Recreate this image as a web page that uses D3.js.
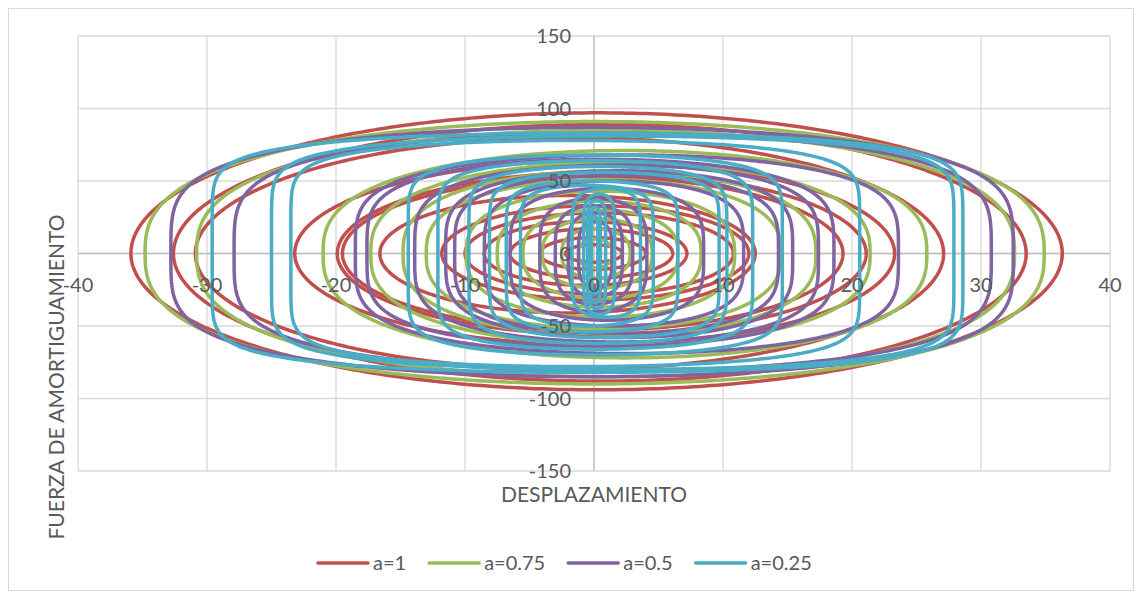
<!DOCTYPE html>
<html><head><meta charset="utf-8">
<script src="https://cdn.jsdelivr.net/npm/d3@7"></script>
<style>body{margin:0;background:#fff}svg{display:block}</style>
</head><body><svg id="c" width="1141" height="595"></svg>
<script>
// ---- data ----
const seriesNames = ["a=1", "a=0.75", "a=0.5", "a=0.25"];
const exponents = [1, 0.75, 0.5, 0.25];
const seriesColors = ["#C0504D", "#9BBB59", "#8064A2", "#4BACC6"];
// each loop: [left displacement, right displacement, peak force (upper branch), peak force (lower branch)]
const loopsA1 = [
  [-35.9, 36.3, 97, -94], [-32.6, 33.5, 89, -88], [-30.9, 27.1, 80, -80],
  [-23.2, 23.3, 64, -63], [-19.9, 21.1, 56, -56], [-19.5, 19.3, 53, -53],
  [-16.6, 12.5, 40, -41], [-11.8, 12.0, 33, -32], [-10.0, 10.8, 28, -28],
  [-8.5, 7.2, 22, -22], [-6.5, 6.1, 17, -17], [-4.2, 4.0, 11, -11], [-2.2, 2.2, 6, -6]
];
const loopsA075 = [
  [-34.8, 34.9, 91, -90], [-30.8, 32.6, 85, -85], [-21.0, 25.8, 71, -72],
  [-17.3, 21.4, 63, -63], [-14.8, 17.2, 57, -57], [-13.0, 14.5, 51, -52],
  [-9.9, 10.9, 43, -44], [-7.5, 8.3, 36, -37], [-5.5, 6.5, 30, -31],
  [-4.0, 4.5, 24, -24], [-2.5, 2.8, 17, -17], [-1.2, 1.4, 10, -10]
];
const loopsA05 = [
  [-32.8, 32.5, 87, -85], [-27.9, 30.8, 83, -81], [-18.5, 23.6, 68, -69],
  [-17.6, 18.6, 65, -64], [-13.9, 17.4, 61, -61], [-11.5, 15.4, 57, -58],
  [-10.8, 14.3, 54, -55], [-8.5, 11.6, 50, -50], [-6.5, 8.5, 45, -46],
  [-4.2, 4.1, 38, -40], [-3.0, 3.0, 33, -35], [-2.0, 2.2, 28, -30], [-1.2, 1.4, 22, -24]
];
const loopsA025 = [
  [-29.6, 28.6, 83, -82], [-25.0, 27.9, 81, -80], [-23.5, 20.6, 78, -78],
  [-14.4, 14.6, 68, -70], [-12.1, 12.3, 64, -66], [-9.7, 10.3, 60, -62],
  [-8.1, 9.7, 56, -58], [-6.8, 6.5, 50, -54], [-5.7, 4.6, 47, -50],
  [-1.7, 3.6, 45, -44], [-0.8, 1.6, 41, -42], [-0.5, 0.9, 37, -38],
  [-0.3, 0.5, 32, -34], [-0.2, 0.3, 26, -28]
];
const seriesLoops = [loopsA1, loopsA075, loopsA05, loopsA025];
const xTicks = [-40, -30, -20, -10, 0, 10, 20, 30, 40];
const yTicks = [-150, -100, -50, 0, 50, 100, 150];
const xTitle = "DESPLAZAMIENTO";
const yTitle = "FUERZA DE AMORTIGUAMIENTO";

// ---- drawing ----
const svg = d3.select("#c");
const FONT = "Lato, 'Open Sans', sans-serif";
const TXT = "#595959";
const x = d3.scaleLinear().domain([-40, 40]).range([78, 1110]);
const y = d3.scaleLinear().domain([-150, 150]).range([471, 36]);

svg.append("rect").attr("x", 8.5).attr("y", 8.5).attr("width", 1125).attr("height", 582)
  .attr("fill", "#fff").attr("stroke", "#d9d9d9");

// gridlines
svg.append("g").selectAll("line").data(xTicks).join("line")
  .attr("x1", d => x(d)).attr("x2", d => x(d)).attr("y1", y(150)).attr("y2", y(-150))
  .attr("stroke", "#d9d9d9").attr("stroke-width", 1.3);
svg.append("g").selectAll("line").data(yTicks).join("line")
  .attr("y1", d => y(d)).attr("y2", d => y(d)).attr("x1", x(-40)).attr("x2", x(40))
  .attr("stroke", "#d9d9d9").attr("stroke-width", 1.3);
// axis lines through zero
svg.append("line").attr("x1", x(-40)).attr("x2", x(40)).attr("y1", y(0)).attr("y2", y(0))
  .attr("stroke", "#bfbfbf").attr("stroke-width", 1.3);
svg.append("line").attr("x1", x(0)).attr("x2", x(0)).attr("y1", y(150)).attr("y2", y(-150))
  .attr("stroke", "#bfbfbf").attr("stroke-width", 1.3);

// damper hysteresis loops: velocity ~ sin(theta), force ~ |v|^a
function loopPoints(loop, a) {
  const [xl, xr, ft, fb] = loop;
  const m = (xl + xr) / 2, h = (xr - xl) / 2, N = 240, pts = [];
  for (let i = 0; i <= N; i++) {
    const t = Math.PI * i / N;
    pts.push([m - h * Math.cos(t), ft * Math.pow(Math.sin(t), a)]);
  }
  for (let i = 1; i <= N; i++) {
    const t = Math.PI * i / N;
    pts.push([m + h * Math.cos(t), fb * Math.pow(Math.sin(t), a)]);
  }
  return pts;
}
const line = d3.line().x(d => x(d[0])).y(d => y(d[1]));
seriesLoops.forEach((loops, si) => {
  svg.append("g").selectAll("path").data(loops).join("path")
    .attr("d", d => line(loopPoints(d, exponents[si])))
    .attr("fill", "none").attr("stroke", seriesColors[si]).attr("stroke-width", 3.5)
    .attr("stroke-linejoin", "round").attr("stroke-linecap", "round");
});

// tick labels
svg.append("g").selectAll("text").data(yTicks).join("text")
  .attr("x", x(0) - 23).attr("y", d => y(d)).attr("dy", "0.35em")
  .attr("text-anchor", "end").attr("font-family", FONT).attr("font-size", 20).attr("fill", TXT)
  .text(d => d);
svg.append("g").selectAll("text").data(xTicks).join("text")
  .attr("x", d => x(d)).attr("y", y(0) + 31).attr("dy", "0.35em")
  .attr("text-anchor", "middle").attr("font-family", FONT).attr("font-size", 20).attr("fill", TXT)
  .text(d => d);

// titles
svg.append("text").attr("x", x(0)).attr("y", 495).attr("dy", "0.35em").attr("text-anchor", "middle")
  .attr("font-family", FONT).attr("font-size", 21).attr("fill", TXT).text(xTitle);
svg.append("text").attr("transform", "translate(57,377) rotate(-90)").attr("dy", "0.35em")
  .attr("text-anchor", "middle").attr("font-family", FONT).attr("font-size", 21).attr("fill", TXT).text(yTitle);

// legend
let lx = 318;
const ly = 563;
seriesNames.forEach((name, i) => {
  svg.append("line").attr("x1", lx).attr("x2", lx + 50).attr("y1", ly).attr("y2", ly)
    .attr("stroke", seriesColors[i]).attr("stroke-width", 3.5).attr("stroke-linecap", "round");
  const t = svg.append("text").attr("x", lx + 55).attr("y", ly).attr("dy", "0.35em")
    .attr("font-family", FONT).attr("font-size", 20).attr("fill", TXT).text(name);
  lx += 55 + t.node().getComputedTextLength() + 23;
});
</script></body></html>
